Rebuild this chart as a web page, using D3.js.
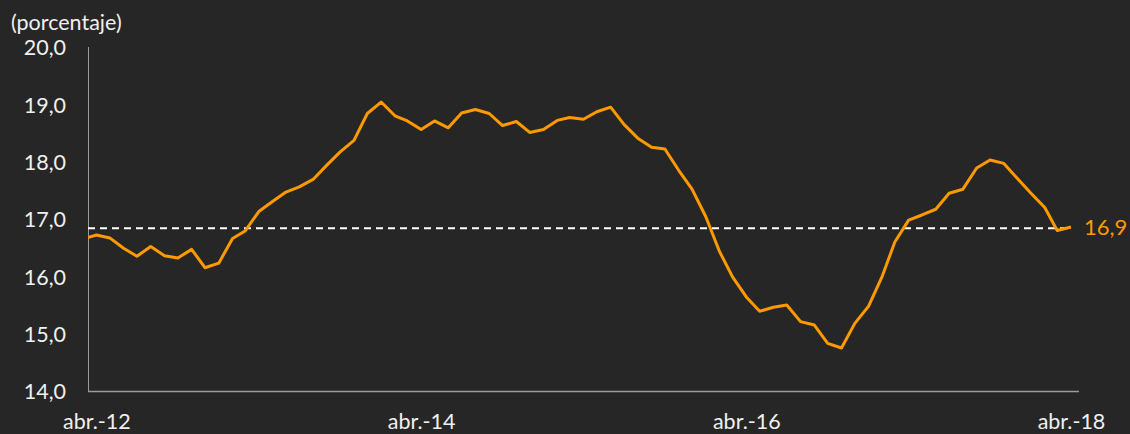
<!DOCTYPE html>
<html>
<head>
<meta charset="utf-8">
<script src="https://cdn.jsdelivr.net/npm/d3@7"></script>
<style>
  html, body { margin: 0; padding: 0; background: #262626; }
  svg { display: block; }
  text { font-family: Lato, "Open Sans", sans-serif; }
</style>
</head>
<body>
<svg id="chart" width="1130" height="434"></svg>
<script>
// Monthly series, mar.-12 through abr.-18 (percent)
const months = d3.timeMonths(new Date(2012, 2, 1), new Date(2018, 4, 1));
const values = [
  16.65, 16.72, 16.67, 16.49, 16.35, 16.52, 16.36, 16.32, 16.47, 16.15,
  16.23, 16.66, 16.79, 17.13, 17.30, 17.47, 17.56, 17.69, 17.94, 18.17,
  18.37, 18.84, 19.04, 18.80, 18.71, 18.56, 18.71, 18.59, 18.85, 18.91,
  18.84, 18.63, 18.70, 18.51, 18.56, 18.72, 18.77, 18.74, 18.87, 18.95,
  18.65, 18.41, 18.25, 18.22, 17.85, 17.52, 17.04, 16.43, 15.99, 15.64,
  15.39, 15.46, 15.50, 15.21, 15.15, 14.83, 14.75, 15.18, 15.48, 16.01,
  16.60, 16.98, 17.07, 17.17, 17.45, 17.52, 17.89, 18.03, 17.97, 17.71,
  17.45, 17.20, 16.80, 16.86
];
const referenceLevel = 16.84;
const yTicks = [14, 15, 16, 17, 18, 19, 20];
const xTickDates = [new Date(2012, 3, 1), new Date(2014, 3, 1), new Date(2016, 3, 1), new Date(2018, 3, 1)];
const xTickLabels = ["abr.-12", "abr.-14", "abr.-16", "abr.-18"];
const unitLabel = "(porcentaje)";

const data = months.map((d, i) => ({ date: d, value: values[i] }));

const es = d3.formatLocale({ decimal: ",", thousands: ".", grouping: [3], currency: ["", " €"] });
const fmt = es.format(".1f");

const svg = d3.select("#chart");
const plot = { left: 88, right: 1079, top: 47, bottom: 391 };

const x = d3.scaleTime()
  .domain([new Date(2012, 2, 13), new Date(2018, 3, 19)])
  .range([plot.left, plot.right]);
const y = d3.scaleLinear().domain([14, 20]).range([plot.bottom, plot.top]);

svg.append("defs").append("clipPath").attr("id", "plot-clip")
  .append("rect")
  .attr("x", plot.left).attr("y", plot.top - 10)
  .attr("width", plot.right - plot.left).attr("height", plot.bottom - plot.top + 20);

const textColor = "#f0f0f0";
const fontSize = 21.5;

// Y axis: labels only, plus a plain vertical rule
const yAxis = svg.append("g")
  .attr("transform", `translate(${plot.left - 22},0)`)
  .call(d3.axisLeft(y).tickValues(yTicks).tickFormat(fmt).tickSize(0).tickPadding(0));
yAxis.select(".domain").remove();
yAxis.selectAll("text")
  .attr("fill", textColor).attr("font-size", fontSize).attr("dy", "0.36em");

// X axis labels
const xAxis = svg.append("g")
  .attr("transform", `translate(0,${plot.bottom})`)
  .call(d3.axisBottom(x).tickValues(xTickDates)
    .tickFormat((d, i) => xTickLabels[i]).tickSize(0).tickPadding(30));
xAxis.select(".domain").remove();
xAxis.selectAll("text")
  .attr("fill", textColor).attr("font-size", fontSize).attr("dy", "0.36em");

// Axis rules
svg.append("line")
  .attr("x1", plot.left + 0.5).attr("x2", plot.left + 0.5)
  .attr("y1", plot.top).attr("y2", plot.bottom)
  .attr("stroke", "#9a9a9a").attr("stroke-width", 1);
svg.append("line")
  .attr("x1", plot.left).attr("x2", plot.right)
  .attr("y1", plot.bottom + 0.5).attr("y2", plot.bottom + 0.5)
  .attr("stroke", "#9a9a9a").attr("stroke-width", 1.5);

// Unit label
svg.append("text")
  .attr("x", 11).attr("y", 22).attr("dy", "0.36em")
  .attr("fill", textColor).attr("font-size", fontSize)
  .text(unitLabel);

// Reference level (dashed)
svg.append("line")
  .attr("x1", plot.left).attr("x2", x(months[months.length - 1]))
  .attr("y1", y(referenceLevel)).attr("y2", y(referenceLevel))
  .attr("stroke", "#ffffff").attr("stroke-width", 2)
  .attr("stroke-dasharray", "7,5");

// Series line
const line = d3.line().x(d => x(d.date)).y(d => y(d.value));
svg.append("path")
  .datum(data)
  .attr("clip-path", "url(#plot-clip)")
  .attr("d", line)
  .attr("fill", "none")
  .attr("stroke", "#ff9900")
  .attr("stroke-width", 3)
  .attr("stroke-linejoin", "round");

// End value label
const last = data[data.length - 1];
svg.append("text")
  .attr("x", x(last.date) + 13).attr("y", y(last.value)).attr("dy", "0.36em")
  .attr("fill", "#ff9900").attr("font-size", 22)
  .text(fmt(last.value));
</script>
</body>
</html>
